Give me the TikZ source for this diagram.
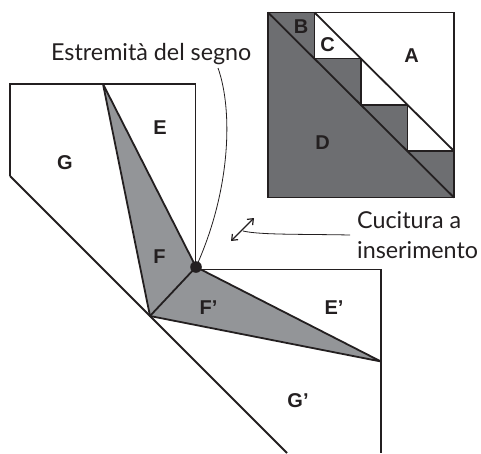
\documentclass[tikz,border=0pt]{standalone}
\usepackage{fontspec}
\setmainfont{Lato}
\newfontfamily\lab{Liberation Sans}[BoldFont={Liberation Sans Bold}]
\usetikzlibrary{arrows.meta}
\definecolor{ink}{HTML}{231F20}
\definecolor{darkg}{HTML}{6D6E71}
\definecolor{lightg}{HTML}{939598}
\tikzset{
  outl/.style={draw=ink,line width=1.8pt,line join=miter},
  part/.style={font=\lab\bfseries\fontsize{20}{20}\selectfont,text=ink,inner sep=0pt,anchor=center},
  captxt/.style={font=\fontsize{23.3}{29}\selectfont,text=ink,inner sep=0pt,anchor=base west},
  leader/.style={draw=ink,line width=0.8pt}
}
\begin{document}
\begin{tikzpicture}[x=1pt,y=-1pt]
\useasboundingbox (0,0) rectangle (481,453);
% block
\fill[white] (268,12.5) rectangle (454,197.5);
\fill[darkg] (268,12.5) -- (314.5,12.5) -- (314.5,58.5) -- (361,58.5) -- (361,105) -- (407.5,105) -- (407.5,151) -- (454,151) -- (454,197.5) -- (268,197.5) -- cycle;
\draw[outl] (268,12.5) rectangle (454,197.5);
\draw[outl] (268,12.5) -- (454,197.5);
\draw[outl] (314.5,12.5) -- (454,151);
\draw[outl] (314.5,12.5) -- (314.5,58.5) -- (361,58.5) -- (361,105) -- (407.5,105) -- (407.5,151) -- (454,151);
% opened seam
\coordinate (apex) at (103,84);
\coordinate (low) at (150,316);
\coordinate (pin) at (196,267);
\coordinate (tip) at (381,361.5);
\fill[lightg] (apex) -- (pin) -- (tip) -- (low) -- cycle;
\draw[outl] (10,176) -- (10,84) -- (195.5,84) -- (195.5,267);
\draw[outl] (196,269.5) -- (381,269.5) -- (381,453);
\draw[outl] (10,176) -- (287,453);
\draw[outl,line join=bevel] (apex) -- (pin) -- (tip) -- (low) -- cycle;
\draw[outl] (pin) -- (low);
\fill[ink] (pin) circle (5.8);
% part labels
\node[part] (A) at (411.5,56) {A};
\node[part] (B) at (301,27) {B};
\node[part] (C) at (327.5,45) {C};
\node[part] (D) at (322.5,142.5) {D};
\node[part] (E) at (160,128) {E};
\node[part] (G) at (65,163) {G};
\node[part] (F) at (159.5,257) {F};
\node[part] (F2) at (208.5,308) {F’};
\node[part] (E2) at (334,307.5) {E’};
\node[part] (G2) at (298,401) {G’};
% captions
\node[captxt] (segno) at (51,60) {Estremità del segno};
\node[captxt] (cuc) at (357,228) {Cucitura a};
\node[captxt] (ins) at (357,258) {inserimento};
% leaders
\coordinate (s1) at (218,68);
\coordinate (c1) at (350,235);
\coordinate (c2) at (243,231);
\coordinate (d1) at (231,241);
\coordinate (d2) at (254,218);
\draw[leader] (s1) .. controls (233,110) and (231,190) .. (pin);
\draw[leader] (c1) .. controls (300,234) and (260,235) .. (c2);
\draw[draw=ink,line width=1.2pt,{Straight Barb[length=5pt,width=8pt]}-{Straight Barb[length=5pt,width=8pt]}] (d1) -- (d2);
\end{tikzpicture}
\end{document}
